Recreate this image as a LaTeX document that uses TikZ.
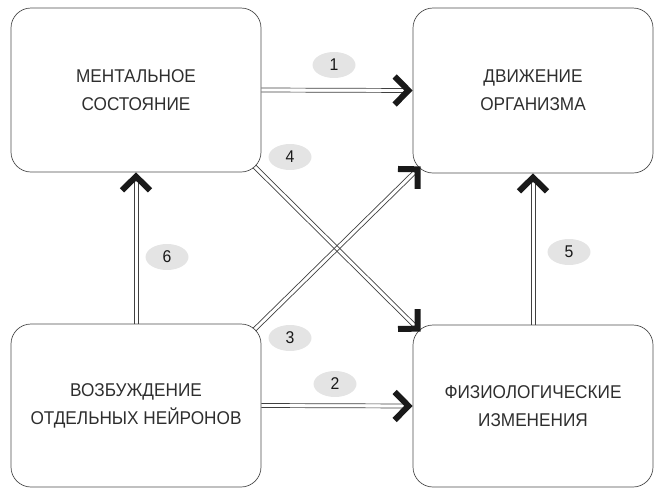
\documentclass[tikz,border=0pt]{standalone}
\usepackage{fontspec}
\setmainfont{Liberation Sans}[FakeStretch=0.93]
\usetikzlibrary{shapes,calc,decorations.markings}
\definecolor{inkgray}{HTML}{2E2E2E}
\definecolor{numgray}{HTML}{E4E4E4}
\newcommand{\chevtip}{%
  \draw[line width=6pt,draw=black!90,line join=miter,line cap=butt,shorten >=0pt,shorten <=0pt]
    (-18pt,14pt) -- (-4.2pt,0pt) -- (-18pt,-14pt);}
% two thin rails and a chevron head
\newcommand{\twinlink}[2]{%
  \draw[rail] ($(#1)!2pt!90:(#2)$) -- ($(#2)!2pt!-90:(#1)$);
  \draw[rail] ($(#1)!2pt!-90:(#2)$) -- ($(#2)!2pt!90:(#1)$);
  \path[head] (#1) -- (#2);}

\begin{document}
\begin{tikzpicture}[x=1pt,y=-1pt]
    \tikzstyle{state}=[draw=black!70,line width=0.7pt,rounded corners=20pt,align=center,text=inkgray,font=\fontsize{18.5}{28}\selectfont]
    \tikzstyle{num}=[ellipse,fill=numgray,minimum width=43pt,minimum height=26pt,inner sep=0pt,text=black!90,font=\fontsize{17}{17}\selectfont]
    \tikzstyle{rail}=[draw=black!75,line width=0.7pt,shorten >=5pt]
    \tikzstyle{head}=[postaction={decorate},decoration={markings,mark=at position 1 with {\chevtip}}]
    \useasboundingbox (0,0) rectangle (654,488);
    % boxes
    \node[state,minimum width=250pt,minimum height=164pt] (ment) at (136,90) {МЕНТАЛЬНОЕ\\СОСТОЯНИЕ};
    \node[state,minimum width=240pt,minimum height=165pt] (move) at (533,90.5) {ДВИЖЕНИЕ\\ОРГАНИЗМА};
    \node[state,minimum width=250pt,minimum height=163pt] (neur) at (136,405.5) {ВОЗБУЖДЕНИЕ\\ОТДЕЛЬНЫХ НЕЙРОНОВ};
    \node[state,minimum width=240pt,minimum height=162pt] (phys) at (533,406) {ФИЗИОЛОГИЧЕСКИЕ\\ИЗМЕНЕНИЯ};
    % end points of the crossing links
    \coordinate (c4a) at ([shift={(-7,-6)}]ment.south east);
    \coordinate (c4b) at ([shift={(8,7)}]phys.north west);
    \coordinate (c3a) at ([shift={(-7,6)}]neur.north east);
    \coordinate (c3b) at ([shift={(8,-7)}]move.south west);
    % connectors
    \twinlink{ment.east}{move.west}
    \twinlink{neur.east}{phys.west}
    \twinlink{neur.north}{ment.south}
    \twinlink{phys.north}{move.south}
    \twinlink{c4a}{c4b}
    \twinlink{c3a}{c3b}
    % numbers
    \node[num] (n1) at (334,65) {1};
    \node[num] (n2) at (335,384) {2};
    \node[num] (n3) at (290,338) {3};
    \node[num] (n4) at (290,157) {4};
    \node[num] (n5) at (569,252) {5};
    \node[num] (n6) at (167,257) {6};
\end{tikzpicture}
\end{document}
